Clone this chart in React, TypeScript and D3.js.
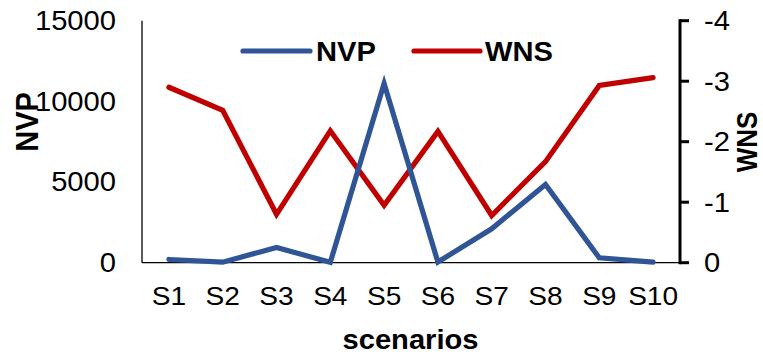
import React from "react";
import * as d3 from "d3";

const categories = ["S1", "S2", "S3", "S4", "S5", "S6", "S7", "S8", "S9", "S10"];
const nvpValues = [200, 30, 950, 20, 11100, 40, 2100, 4850, 300, 30];
const wnsValues = [-2.9, -2.52, -0.8, -2.18, -0.95, -2.17, -0.78, -1.67, -2.93, -3.06];
const nvpTicks = [0, 5000, 10000, 15000];
const wnsTicks = [0, -1, -2, -3, -4];

const W = 763;
const H = 356;
const left = 142;
const right = 680;
const top = 20.7;
const bottom = 262.7;

const BLUE = "#2F5597";
const RED = "#C00000";
const FONT = "'Liberation Sans', Arial, sans-serif";

export default function App() {
  const x = d3.scaleBand<string>().domain(categories).range([left, right]);
  const xc = (c: string) => (x(c) ?? 0) + x.bandwidth() / 2;
  const yL = d3.scaleLinear().domain([0, 15000]).range([bottom, top]);
  const yR = d3.scaleLinear().domain([0, -4]).range([bottom, top]);

  const nvpLine = d3
    .line<number>()
    .x((_, i) => xc(categories[i]))
    .y((d) => yL(d));
  const wnsLine = d3
    .line<number>()
    .x((_, i) => xc(categories[i]))
    .y((d) => yR(d));

  const sx = 1.08;

  return (
    <svg
      width={W}
      height={H}
      style={{ position: "absolute", left: 0, top: 0, background: "#fff" }}
      fontFamily={FONT}
    >
      {/* axes */}
      <line x1={left} x2={left} y1={top} y2={bottom} stroke="#000" strokeWidth={1.3} />
      <line x1={left} x2={right} y1={bottom} y2={bottom} stroke="#000" strokeWidth={1.3} />
      <line x1={right} x2={right} y1={top - 1.5} y2={bottom + 1.5} stroke="#000" strokeWidth={3} />
      {wnsTicks.map((t) => (
        <line key={"rt" + t} x1={right} x2={right + 9} y1={yR(t)} y2={yR(t)} stroke="#000" strokeWidth={3} />
      ))}

      {/* left tick labels */}
      {nvpTicks.map((t) => (
        <g key={"lt" + t} transform={`translate(116,${yL(t)}) scale(${sx},1)`}>
          <text textAnchor="end" dy="0.35em" fontSize={27} fill="#000">
            {t}
          </text>
        </g>
      ))}

      {/* right tick labels */}
      {wnsTicks.map((t) => (
        <g key={"rl" + t} transform={`translate(704,${yR(t)}) scale(${sx},1)`}>
          <text textAnchor="start" dy="0.35em" fontSize={27} fill="#000">
            {t === 0 ? "0" : `-${Math.abs(t)}`}
          </text>
        </g>
      ))}

      {/* category labels */}
      {categories.map((c) => (
        <g key={c} transform={`translate(${xc(c)},305) scale(${sx},1)`}>
          <text textAnchor="middle" fontSize={26} fill="#000">
            {c}
          </text>
        </g>
      ))}

      {/* axis titles */}
      <g transform="translate(27,122) rotate(-90) scale(1,1.1)">
        <text textAnchor="middle" dy="0.35em" fontSize={29} fontWeight="bold" fill="#000">
          NVP
        </text>
      </g>
      <g transform="translate(756.5,142) rotate(-90) scale(1,1.1)">
        <text textAnchor="middle" fontSize={26} fontWeight="bold" fill="#000">
          WNS
        </text>
      </g>
      <g transform="translate(410.5,349) scale(1.04,1)">
        <text textAnchor="middle" fontSize={28} fontWeight="bold" fill="#000">
          scenarios
        </text>
      </g>

      {/* series */}
      <path d={wnsLine(wnsValues) ?? ""} fill="none" stroke={RED} strokeWidth={5.2} strokeLinejoin="miter" strokeLinecap="round" />
      <path d={nvpLine(nvpValues) ?? ""} fill="none" stroke={BLUE} strokeWidth={5.2} strokeLinejoin="miter" strokeLinecap="round" />

      {/* legend */}
      <line x1={243} x2={310} y1={51} y2={51} stroke={BLUE} strokeWidth={5.2} strokeLinecap="round" />
      <g transform="translate(316,61) scale(1.04,1)">
        <text fontSize={28} fontWeight="bold" fill="#000">NVP</text>
      </g>
      <line x1={414} x2={480} y1={51} y2={51} stroke={RED} strokeWidth={5.2} strokeLinecap="round" />
      <g transform="translate(485,61) scale(1.04,1)">
        <text fontSize={28} fontWeight="bold" fill="#000">WNS</text>
      </g>
    </svg>
  );
}
